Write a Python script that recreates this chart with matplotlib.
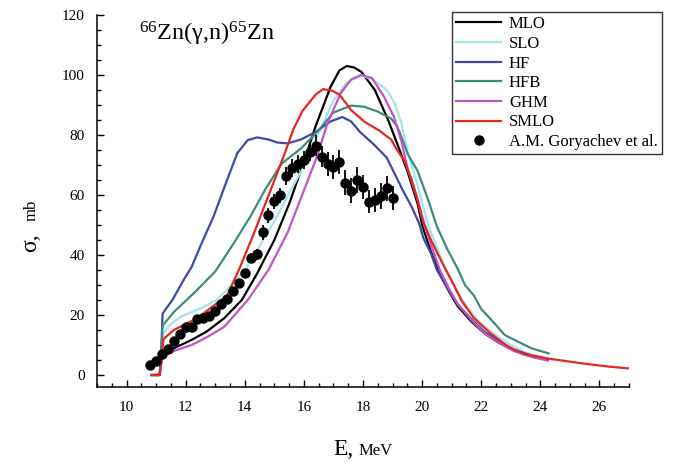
import numpy as np
import matplotlib
matplotlib.use("Agg")
import matplotlib.pyplot as plt
from matplotlib.ticker import MultipleLocator
from matplotlib.lines import Line2D

plt.rcParams['font.family'] = ['Liberation Serif', 'DejaVu Serif']
plt.rcParams['mathtext.fontset'] = 'custom'
plt.rcParams['mathtext.rm'] = 'Liberation Serif'
plt.rcParams['mathtext.it'] = 'Liberation Serif:italic'

# --- theory curves (E in MeV, sigma in mb) ---
E_mlo = [10.85, 11.12, 11.18, 11.25, 11.6, 12.2, 12.7, 13.3, 13.9, 14.4, 15.0, 15.5, 16.0, 16.4,
         16.9, 17.2, 17.45, 17.7, 17.95, 18.4, 18.85, 19.2, 19.5, 19.85, 20.0, 20.3, 20.6, 20.9,
         21.2, 21.65, 22.1, 22.55, 23.1, 23.7, 24.25]
s_mlo = [0, 0, 5, 7.2, 8.9, 11.7, 14.4, 18.9, 25, 33.5, 45, 57, 71, 83,
         96, 101.5, 103, 102.5, 101, 95, 85, 76, 68, 57, 50, 41, 34, 28,
         23, 18, 14, 11, 8.3, 6.3, 5]

E_slo = [10.85, 11.12, 11.18, 11.25, 11.5, 11.85, 12.5, 13.05, 13.6, 14.0, 14.5, 15.1, 15.55, 16.0,
         16.45, 17.0, 17.45, 17.9, 18.35, 18.8, 19.05, 19.3, 19.5, 19.85, 20.2, 20.6, 20.9, 21.2,
         21.5, 21.9, 22.4, 22.9, 23.5, 24.25]
s_slo = [0, 0, 8, 14, 17, 19.5, 22.2, 25, 30.5, 35, 43, 53, 61.5, 69.5,
         79.5, 91.5, 97.5, 100, 98.5, 95, 91, 84, 75, 63, 50, 40, 33, 27.5,
         23, 18, 14, 10.5, 7.5, 5.5]

E_hf = [10.85, 11.12, 11.18, 11.22, 11.55, 11.95, 12.2, 12.5, 12.95, 13.4, 13.75, 14.1, 14.42, 14.8,
        15.1, 15.45, 15.9, 16.4, 16.9, 17.3, 17.6, 17.9, 18.35, 18.8, 19.05, 19.35, 19.65, 19.9,
        20.05, 20.3, 20.5, 20.85, 21.2, 21.65, 22.1, 22.55, 23.1, 23.7, 24.25]
s_hf = [0, 0, 10, 20.5, 25, 32, 36, 43, 53, 65, 74, 78.3, 79.2, 78.5,
        77.5, 77.2, 78.5, 81, 84.5, 86, 84.5, 81, 77, 72.5, 67.5, 61.5, 56, 50.5,
        45.5, 40.5, 35, 29, 23.5, 18.8, 14.5, 11.5, 8.5, 6.5, 5.2]

E_hfb = [10.85, 11.12, 11.18, 11.22, 11.6, 12.3, 13.0, 13.6, 14.2, 14.7, 15.25, 15.9, 16.45, 17.0,
         17.6, 18.05, 18.5, 18.95, 19.15, 19.3, 19.52, 19.85, 20.2, 20.5, 20.85, 21.2, 21.45, 21.75,
         22.0, 22.35, 22.8, 23.25, 23.7, 24.28]
s_hfb = [0, 0, 8, 16.5, 21, 27.5, 34.5, 43.5, 53, 62, 70.5, 75.5, 81, 87.5,
         89.8, 89.4, 87.8, 85.5, 83, 79.4, 73.5, 68, 58.5, 49.5, 42, 35.5, 30, 26.5,
         22, 18.3, 13.3, 11.1, 8.9, 7.2]

E_ghm = [10.85, 11.12, 11.18, 11.25, 11.6, 12.2, 12.7, 13.3, 14.1, 14.8, 15.45, 16.0, 16.45, 16.8,
         17.25, 17.6, 17.95, 18.3, 18.7, 19.05, 19.3, 19.5, 19.85, 20.1, 20.35, 20.6, 20.9, 21.2,
         21.65, 22.1, 22.55, 23.1, 23.7, 24.25]
s_ghm = [0, 0, 4, 6.5, 8, 10, 12.5, 16, 25, 35, 47.5, 61.5, 73, 84,
         94, 98.5, 100, 99, 93, 86, 78, 69, 58.3, 49.5, 42, 35, 29, 23.7,
         18.5, 14, 11, 8, 6, 4.8]

E_smlo = [10.85, 11.12, 11.18, 11.25, 11.6, 12.4, 13.4, 13.8, 14.3, 14.85, 15.3, 15.65, 15.95, 16.4,
          16.65, 16.95, 17.2, 17.6, 18.05, 18.55, 18.95, 19.15, 19.4, 19.65, 19.85, 20.0, 20.3, 20.7,
          21.05, 21.35, 21.75, 22.3, 22.9, 23.45, 24.25, 25.4, 26.3, 27.0]
s_smlo = [0, 0, 6, 12, 15, 19, 26.5, 35, 47, 61, 72.5, 82, 88, 93.5,
          95.3, 94.8, 93.5, 88.3, 84.4, 81.5, 78.5, 75, 71.5, 65, 58.3, 52, 45, 37,
          30.5, 24.5, 19, 14, 9.5, 7, 5.5, 3.9, 2.8, 2.2]

# --- experiment, A.M. Goryachev et al. ---
E_exp = [10.8, 11.0, 11.2, 11.4, 11.6, 11.8, 12.0, 12.2, 12.4, 12.6, 12.8, 13.0, 13.2, 13.4,
         13.6, 13.8, 14.0, 14.2, 14.4, 14.6, 14.8, 15.0, 15.2, 15.4, 15.6, 15.8, 16.0, 16.2,
         16.4, 16.6, 16.8, 17.0, 17.2, 17.4, 17.6, 17.8, 18.0, 18.2, 18.4, 18.6, 18.8, 19.0]
s_exp = [3.3, 4.8, 7.0, 8.6, 11.3, 13.6, 15.9, 16.1, 18.7, 19.1, 19.7, 21.3, 23.6, 25.3,
         28.1, 30.6, 33.9, 39.0, 40.2, 47.6, 53.3, 58.0, 60.0, 66.4, 69.1, 70.3, 71.7, 74.4,
         76.4, 72.8, 70.3, 69.2, 70.9, 64.1, 61.4, 65.0, 62.6, 57.8, 58.3, 59.7, 62.2, 58.9]
err_exp = [1, 1, 1, 1, 1, 1, 1, 1, 1, 1, 1, 1, 1.2, 1.2,
           1.3, 1.4, 1.5, 1.8, 1.8, 2.5, 2.5, 2.5, 2.5, 3, 3, 3, 3, 3,
           3.5, 3.5, 4, 4, 4, 4.2, 4.2, 4.2, 4, 3.8, 4, 4.2, 4.2, 4]

W, H = 683, 467
fig = plt.figure(figsize=(W / 100, H / 100), dpi=100)
ax = fig.add_axes([97 / W, 1 - 387 / H, (629 - 97) / W, (387 - 15) / H])

lw = 1.6
ax.plot(E_mlo, s_mlo, color='black', lw=lw, label='MLO')
ax.plot(E_slo, s_slo, color='#9fe6ea', lw=lw, label='SLO')
ax.plot(E_hf, s_hf, color='#3f4aa8', lw=lw, label='HF')
ax.plot(E_hfb, s_hfb, color='#3b8c7e', lw=lw, label='HFB')
ax.plot(E_ghm, s_ghm, color='#c452c8', lw=lw, label='GHM')
ax.plot(E_smlo, s_smlo, color='#e5281c', lw=lw, label='SMLO')
ax.errorbar(E_exp, s_exp, yerr=err_exp, fmt='o', color='black', ms=6.5,
            elinewidth=1.3, capsize=0, zorder=5)

ax.set_xlim(9, 27)
ax.set_ylim(-4, 120)
ax.xaxis.set_major_locator(MultipleLocator(2))
ax.xaxis.set_minor_locator(MultipleLocator(0.5))
ax.yaxis.set_major_locator(MultipleLocator(20))
ax.yaxis.set_minor_locator(MultipleLocator(5))
ax.tick_params(which='both', direction='in', width=1.0, labelsize=11)
ax.tick_params(which='major', length=5)
ax.tick_params(which='minor', length=3)
ax.tick_params(axis='x', pad=10)
ax.tick_params(axis='y', pad=9)
ax.set_xticks([10, 12, 14, 16, 18, 20, 22, 24, 26])
ax.set_yticks([0, 20, 40, 60, 80, 100, 120])
for s in ['top', 'right']:
    ax.spines[s].set_visible(False)
for s in ['left', 'bottom']:
    ax.spines[s].set_linewidth(1.1)

# axis labels, small unit text
fig.text(36 / W, 1 - 252 / H, 'σ,', rotation=90, rotation_mode='anchor',
         ha='left', va='baseline', fontsize=17)
fig.text(36 / W, 1 - 221 / H, 'mb', rotation=90, rotation_mode='anchor',
         ha='left', va='baseline', fontsize=12)
fig.text(333 / W, 1 - 455 / H, 'E,', ha='left', va='baseline', fontsize=17)
fig.text(359 / W, 1 - 455 / H, 'MeV', ha='left', va='baseline', fontsize=12)

fig.text(139 / W, 1 - 41 / H, r'$^{66}$Zn(γ,n)$^{65}$Zn', ha='left', va='baseline', fontsize=17.5)

handles, labels = ax.get_legend_handles_labels()
handles.append(Line2D([], [], ls='none', marker='o', color='black', ms=6.5))
labels.append('A.M. Goryachev et al.')
leg = fig.legend(handles, labels, loc='upper right', bbox_to_anchor=(662 / W, 1 - 12 / H),
                 borderaxespad=0, fontsize=12, frameon=True, fancybox=False, edgecolor='black',
                 handlelength=2.7, handletextpad=0.45, labelspacing=0.22, borderpad=0.25,
                 numpoints=1)
leg.get_frame().set_linewidth(1.0)

fig.savefig('out.png', dpi=100)
